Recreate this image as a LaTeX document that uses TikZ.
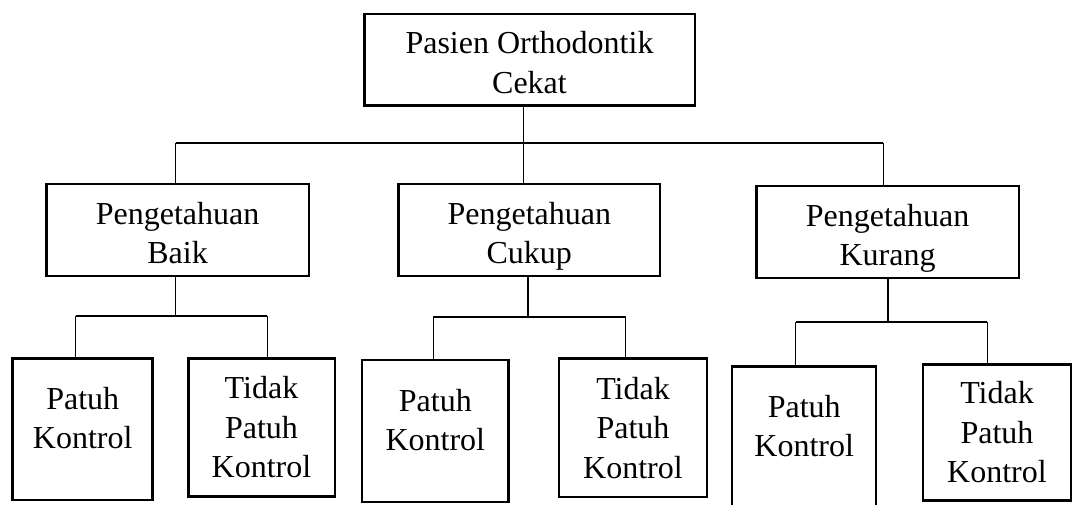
\documentclass[tikz,border=0pt]{standalone}
\usepackage{fontspec}
\setmainfont{Liberation Serif}
\usepackage{tikz}
\tikzset{every picture/.style={font issue=\fontsize{32}{39.5}},
         font issue/.style={execute at begin picture={#1\selectfont}}
        }
\tikzset{
  box/.style={draw, line width=2.5pt, inner sep=0pt, align=center},
  midtext/.style={text height=67pt, text depth=0pt},
  patuhtext/.style={text height=60.5pt, text depth=21.5pt},
  link/.style={line width=1.1pt}
}

\begin{document}
\begin{tikzpicture}[x=1pt,y=-1pt]
\clip (0,0) rectangle (1075,505);

%top
\node[box, midtext, minimum width=330.5, minimum height=91.5] (pasien) at (529.5,60) {Pasien Orthodontik\\Cekat};

%level of knowledge
\node[box, midtext, minimum width=262.5, minimum height=92] (baik) at (177.6,230) {Pengetahuan\\Baik};
\node[box, midtext, minimum width=261.5, minimum height=92] (cukup) at (529.3,230) {Pengetahuan\\Cukup};
\node[box, midtext, minimum width=262.5, minimum height=92] (kurang) at (887.6,232) {Pengetahuan\\Kurang};

%compliance
\node[box, patuhtext, minimum width=140, minimum height=141.2] (patuhA) at (82.7,429.2) {Patuh\\Kontrol};
\node[box, minimum width=146.5, minimum height=138] (tidakA) at (261.5,427.5) {Tidak\\Patuh\\Kontrol};
\node[box, patuhtext, minimum width=146.2, minimum height=142] (patuhB) at (435.3,431) {Patuh\\Kontrol};
\node[box, minimum width=148, minimum height=138.5] (tidakB) at (633,427.8) {Tidak\\Patuh\\Kontrol};
\node[box, patuhtext, minimum width=144, minimum height=141] (patuhC) at (804.2,437) {Patuh\\Kontrol};
\node[box, minimum width=148, minimum height=136] (tidakC) at (997,432.5) {Tidak\\Patuh\\Kontrol};

%lines
\coordinate (hub) at (523.5,143);
\coordinate (hubL) at (175.6,143);
\coordinate (hubR) at (883.2,143);
\draw[link] (pasien.south -| hub) -- (cukup.north -| hub);
\draw[link] (hubL) -- (hubR);
\draw[link] (hubL) -- (baik.north -| hubL);
\draw[link] (hubR) -- (kurang.north -| hubR);

\coordinate (baikS) at (175.6,316);
\coordinate (baikL) at (75.8,316);
\coordinate (baikR) at (267.2,316);
\draw[link] (baik.south -| baikS) -- (baikS);
\draw[link] (baikL) -- (baikR);
\draw[link] (baikL) -- (patuhA.north -| baikL);
\draw[link] (baikR) -- (tidakA.north -| baikR);

\coordinate (cukupS) at (528,317);
\coordinate (cukupL) at (433.2,317);
\coordinate (cukupR) at (625.6,317);
\draw[link] (cukup.south -| cukupS) -- (cukupS);
\draw[link] (cukupL) -- (cukupR);
\draw[link] (cukupL) -- (patuhB.north -| cukupL);
\draw[link] (cukupR) -- (tidakB.north -| cukupR);

\coordinate (kurangS) at (888,322);
\coordinate (kurangL) at (795.9,322);
\coordinate (kurangR) at (987.4,322);
\draw[link] (kurang.south -| kurangS) -- (kurangS);
\draw[link] (kurangL) -- (kurangR);
\draw[link] (kurangL) -- (patuhC.north -| kurangL);
\draw[link] (kurangR) -- (tidakC.north -| kurangR);

\end{tikzpicture}
\end{document}
